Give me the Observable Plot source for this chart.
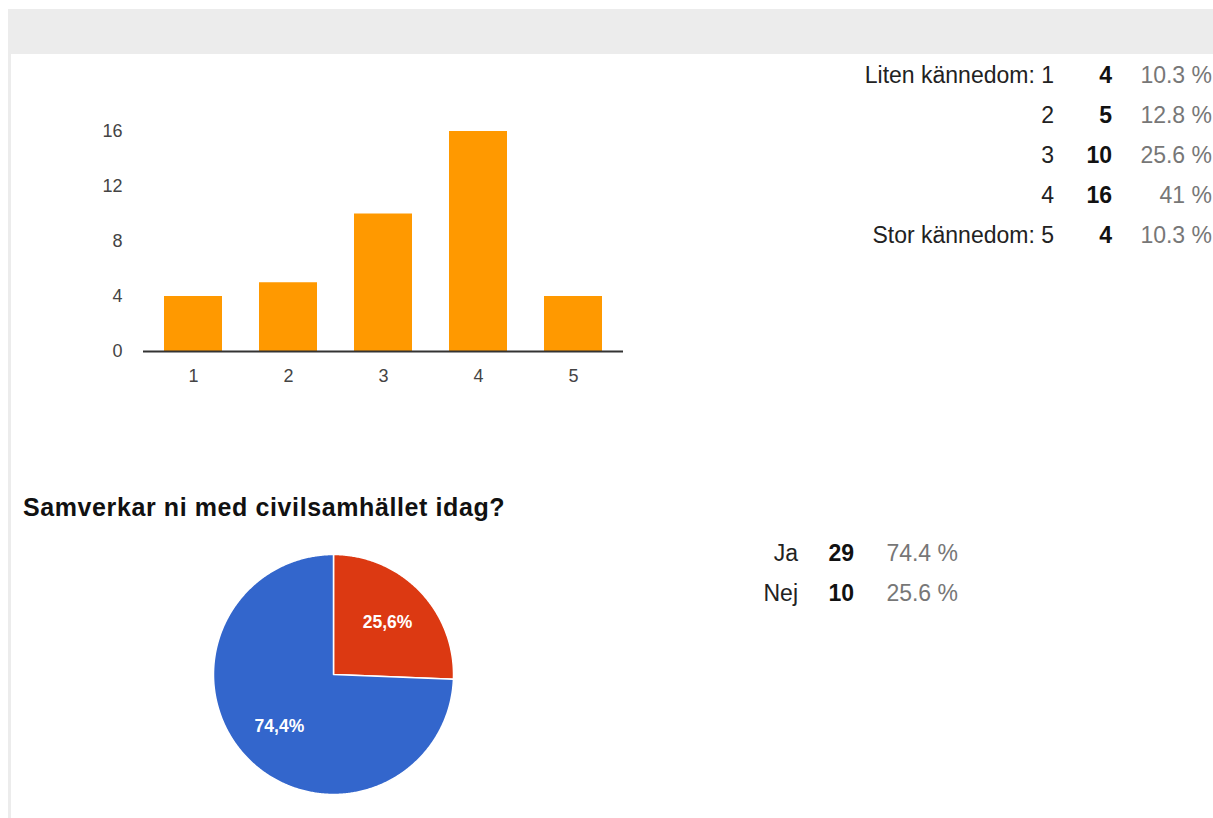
<!DOCTYPE html>
<html>
<head>
<meta charset="utf-8">
<script src="https://cdn.jsdelivr.net/npm/d3@7"></script>
<script src="https://cdn.jsdelivr.net/npm/@observablehq/plot@0.6"></script>
<style>
  html, body { margin: 0; padding: 0; background: #fff; }
  body { width: 1213px; height: 818px; overflow: hidden; position: relative;
         font-family: Arial, "Liberation Sans", sans-serif; }
  .abs { position: absolute; }
  .band { left: 8px; top: 9px; width: 1210px; height: 45px; background: #ececec; }
  .edge { left: 8px; top: 54px; width: 3px; height: 800px; background: #ececec; }
  .cell { position: absolute; height: 40px; line-height: 40px; font-size: 23px; white-space: nowrap; text-align: right; }
  .lab { color: #222; }
  .cnt { color: #111; font-weight: bold; }
  .pct { color: #777; }
  .title { left: 23px; top: 492px; line-height: 30px; font-size: 25px; font-weight: bold; color: #111; white-space: nowrap; letter-spacing: 0.6px; }
</style>
</head>
<body>
<div class="abs band"></div>
<div class="abs edge"></div>
<div id="bar" class="abs" style="left:80px; top:110px;"></div>
<div id="tbl1"></div>
<div class="abs title">Samverkar ni med civilsamhället idag?</div>
<div id="pie" class="abs" style="left:203px; top:544px;"></div>
<div id="tbl2"></div>
<script>
// ---- Data: knowledge scale question ----
const barCategories = ["1", "2", "3", "4", "5"];
const barCounts = [4, 5, 10, 16, 4];
const barRowLabels = ["Liten kännedom: 1", "2", "3", "4", "Stor kännedom: 5"];
const barPercents = ["10.3 %", "12.8 %", "25.6 %", "41 %", "10.3 %"];
const barYTicks = [0, 4, 8, 12, 16];

// ---- Data: "Samverkar ni med civilsamhället idag?" ----
const pieLabels = ["Ja", "Nej"];
const pieCounts = [29, 10];
const piePercents = ["74.4 %", "25.6 %"];
const pieSliceLabels = ["74,4%", "25,6%"];
const pieColors = ["#3366cc", "#dc3912"];

const font = 'Arial, "Liberation Sans", sans-serif';

// ---- Bar chart ----
const barData = barCategories.map((c, i) => ({cat: c, count: barCounts[i]}));
const barPlot = Plot.plot({
  width: 560, height: 290,
  marginTop: 21, marginBottom: 49, marginLeft: 63, marginRight: 17,
  style: {fontFamily: font, fontSize: "18px", color: "#444", background: "transparent", overflow: "visible"},
  x: {type: "band", domain: barCategories, paddingInner: 0.39, paddingOuter: 0.21, tickSize: 0, tickPadding: 18, label: null},
  y: {domain: [0, 16], ticks: barYTicks, tickSize: 0, tickPadding: 21, label: null},
  marks: [
    Plot.barY(barData, {x: "cat", y: "count", fill: "#ff9900"}),
    Plot.ruleY([0], {stroke: "#333", strokeWidth: 2})
  ]
});
document.getElementById("bar").appendChild(barPlot);

// ---- Table helper ----
function addTable(containerId, rows, top, cols) {
  const el = document.getElementById(containerId);
  rows.forEach((r, i) => {
    cols.forEach((c, j) => {
      const d = document.createElement("div");
      d.className = "cell " + c.cls;
      d.style.left = c.left + "px";
      d.style.width = c.width + "px";
      d.style.top = (top + i * 40) + "px";
      d.textContent = r[j];
      el.appendChild(d);
    });
  });
}
addTable("tbl1",
  barRowLabels.map((l, i) => [l, barCounts[i], barPercents[i]]),
  55,
  [{cls: "lab", left: 700, width: 354}, {cls: "cnt", left: 1061, width: 51}, {cls: "pct", left: 1122, width: 90}]);
addTable("tbl2",
  pieLabels.map((l, i) => [l, pieCounts[i], piePercents[i]]),
  533,
  [{cls: "lab", left: 700, width: 98}, {cls: "cnt", left: 803, width: 51}, {cls: "pct", left: 860, width: 98}]);

// ---- Pie chart ----
const pieRecords = pieLabels.map((l, i) => ({label: l, count: pieCounts[i], text: pieSliceLabels[i], color: pieColors[i]}));
// Nej slice starts at 12 o'clock, going clockwise, then Ja
const pieOrder = [pieRecords[1], pieRecords[0]];
const arcs = d3.pie().sort(null).value(d => d.count)(pieOrder);
const slicePts = [];
const labelPts = [];
arcs.forEach(a => {
  const pts = [{x: 0, y: 0}];
  const n = Math.max(2, Math.ceil((a.endAngle - a.startAngle) / (Math.PI / 360)));
  for (let k = 0; k <= n; k++) {
    const t = a.startAngle + (a.endAngle - a.startAngle) * k / n;
    pts.push({x: Math.sin(t), y: Math.cos(t)});
  }
  pts.push({x: 0, y: 0});
  pts.forEach(p => slicePts.push({...p, label: a.data.label, color: a.data.color}));
  const mid = (a.startAngle + a.endAngle) / 2;
  labelPts.push({x: 0.625 * Math.sin(mid), y: 0.625 * Math.cos(mid), text: a.data.text});
});
const pieMarks = pieOrder.map(d =>
  Plot.line(slicePts.filter(p => p.label === d.label), {x: "x", y: "y", fill: d.color, stroke: "#fff", strokeWidth: 1.5, strokeLinejoin: "round"})
);
const piePlot = Plot.plot({
  width: 260, height: 260, margin: 10,
  style: {fontFamily: font, background: "transparent", overflow: "visible"},
  x: {domain: [-1, 1], axis: null},
  y: {domain: [-1, 1], axis: null},
  marks: [
    ...pieMarks,
    Plot.text(labelPts, {x: "x", y: "y", text: "text", fill: "#fff", fontSize: 17.5, fontWeight: "bold"})
  ]
});
document.getElementById("pie").appendChild(piePlot);
</script>
</body>
</html>
